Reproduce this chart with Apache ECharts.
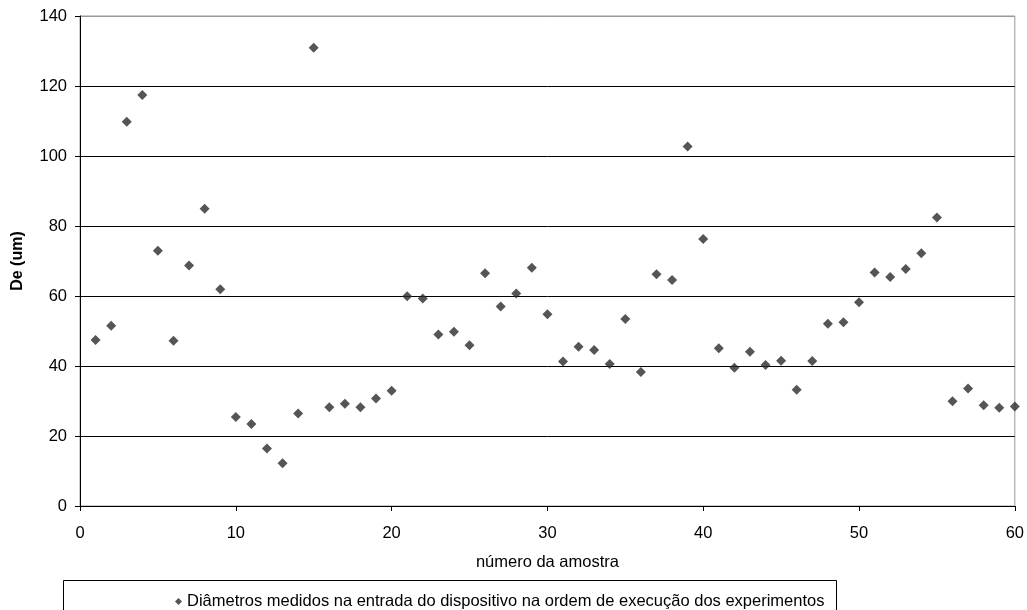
<!DOCTYPE html>
<html>
<head>
<meta charset="utf-8">
<title>De por número da amostra</title>
<script src="https://cdn.jsdelivr.net/npm/echarts@6/dist/echarts.min.js"></script>
<style>
  html, body { margin: 0; padding: 0; background: #fff; }
  #chart { width: 1027px; height: 610px; }
</style>
</head>
<body>
<div id="chart"></div>
<script>
// número da amostra 1..60
const amostras = [
  1, 2, 3, 4, 5, 6, 7, 8, 9, 10,
  11, 12, 13, 14, 15, 16, 17, 18, 19, 20,
  21, 22, 23, 24, 25, 26, 27, 28, 29, 30,
  31, 32, 33, 34, 35, 36, 37, 38, 39, 40,
  41, 42, 43, 44, 45, 46, 47, 48, 49, 50,
  51, 52, 53, 54, 55, 56, 57, 58, 59, 60
]
// diâmetros De (um)
const diametros = [
  47.4, 51.5, 109.8, 117.4, 72.9, 47.2, 68.7, 84.9, 61.9, 25.4,
  23.4, 16.4, 12.2, 26.4, 130.9, 28.2, 29.2, 28.2, 30.7, 32.9,
  59.9, 59.3, 49.0, 49.8, 45.9, 66.5, 57.0, 60.7, 68.1, 54.8,
  41.3, 45.5, 44.6, 40.6, 53.4, 38.3, 66.2, 64.6, 102.7, 76.3,
  45.1, 39.5, 44.1, 40.3, 41.5, 33.2, 41.4, 52.1, 52.5, 58.2,
  66.7, 65.4, 67.7, 72.2, 82.4, 29.9, 33.6, 28.8, 28.1, 28.4
]
const serieNome = 'Diâmetros medidos na entrada do dispositivo na ordem de execução dos experimentos'

const pontos = amostras.map((x, i) => [x, diametros[i]])

const chart = echarts.init(document.getElementById('chart'))
const fonte = "'Liberation Sans', Arial, sans-serif"

const option = {
  animation: false,
  textStyle: { fontFamily: fonte },
  grid: {
    left: 80,
    right: 9,
    top: 16,
    bottom: 104,
    show: true,
    borderColor: '#999',
    borderWidth: 1
  },
  // caixa da legenda (cortada na parte de baixo)
  graphic: [
    {
      type: 'rect',
      shape: { x: 63.5, y: 580.5, width: 773, height: 40 },
      style: { fill: null, stroke: '#000', lineWidth: 1 }
    }
  ],
  legend: {
    top: 588,
    left: 170,
    itemWidth: 7,
    itemHeight: 7,
    textStyle: { fontFamily: fonte, fontSize: 16.5, color: '#000' },
    data: [{ name: serieNome, icon: 'diamond' }]
  },
  xAxis: {
    type: 'value',
    min: 0,
    max: 60,
    interval: 10,
    name: 'número da amostra',
    nameLocation: 'middle',
    nameGap: 48,
    nameTextStyle: { fontFamily: fonte, fontSize: 16.5, color: '#000' },
    axisLine: { show: true, onZero: false, lineStyle: { color: '#000', width: 1 } },
    axisTick: { show: true, length: 5, lineStyle: { color: '#000' } },
    axisLabel: { fontFamily: fonte, fontSize: 16.5, color: '#000', margin: 19 },
    splitLine: { show: false }
  },
  yAxis: {
    type: 'value',
    min: 0,
    max: 140,
    interval: 20,
    name: 'De (um)',
    nameLocation: 'middle',
    nameGap: 54,
    nameTextStyle: { fontFamily: fonte, fontSize: 16, fontWeight: 'bold', color: '#000' },
    axisLine: { show: true, lineStyle: { color: '#000', width: 1 } },
    axisTick: { show: true, length: 5, lineStyle: { color: '#000' } },
    axisLabel: { fontFamily: fonte, fontSize: 16.5, color: '#000', margin: 13 },
    splitLine: {
      show: true,
      lineStyle: {
        color: ['#000', '#000', '#000', '#000', '#000', '#000', '#000', '#999'],
        width: 1
      }
    }
  },
  series: [
    {
      name: serieNome,
      type: 'scatter',
      symbol: 'diamond',
      symbolSize: 10,
      itemStyle: { color: '#2b2b2b' },
      data: pontos
    }
  ]
}

chart.setOption(option)
</script>
</body>
</html>
